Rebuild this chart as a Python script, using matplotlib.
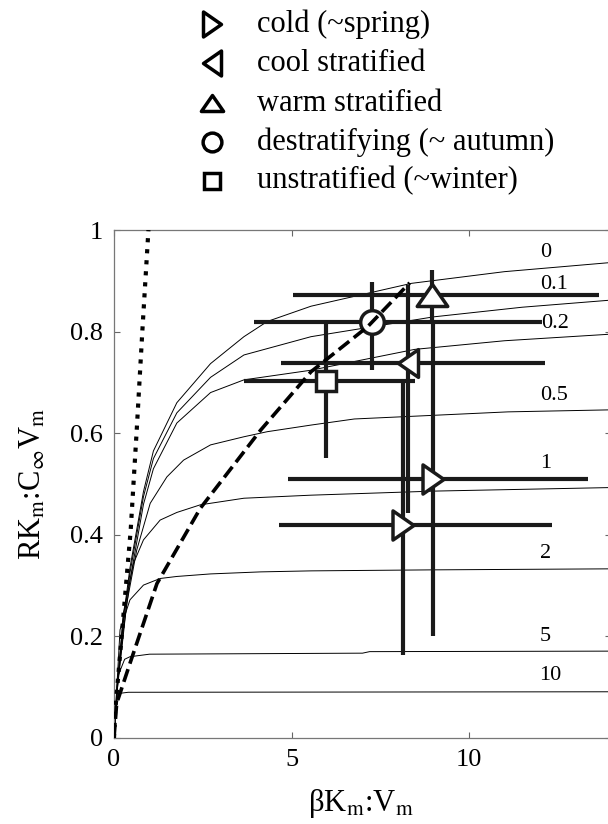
import matplotlib
matplotlib.use("Agg")
import matplotlib.pyplot as plt
from matplotlib.path import Path
import numpy as np

plt.rcParams['font.family'] = ['Liberation Serif', 'DejaVu Serif']
plt.rcParams['mathtext.fontset'] = 'stix'

# thin model curves, one per parameter value
x_c0 = [0, 0.1, 0.26, 0.45, 0.83, 1.11, 1.77, 2.72, 3.66, 4.32, 5.55, 8.38, 11.0, 14.0]
y_c0 = [0, 0.11, 0.235, 0.335, 0.485, 0.565, 0.66, 0.737, 0.79, 0.82, 0.85, 0.895, 0.918, 0.936]
x_c01 = [0, 0.1, 0.26, 0.45, 0.83, 1.11, 1.77, 2.72, 3.66, 5.55, 9.0, 11.5, 14.0]
y_c01 = [0, 0.11, 0.225, 0.325, 0.475, 0.55, 0.64, 0.71, 0.754, 0.79, 0.829, 0.848, 0.862]
x_c02 = [0, 0.1, 0.26, 0.45, 0.83, 1.11, 1.77, 2.72, 3.66, 5.55, 8.47, 11.0, 14.0]
y_c02 = [0, 0.105, 0.21, 0.31, 0.46, 0.53, 0.62, 0.68, 0.705, 0.724, 0.765, 0.782, 0.795]
x_c05 = [0, 0.1, 0.36, 0.64, 1.02, 1.49, 1.96, 2.72, 3.66, 4.32, 5.55, 6.77, 11.1, 14.0]
y_c05 = [0, 0.1, 0.265, 0.37, 0.462, 0.514, 0.547, 0.577, 0.593, 0.603, 0.616, 0.628, 0.642, 0.646]
x_c1 = [0, 0.1, 0.26, 0.55, 0.83, 1.30, 1.77, 2.43, 3.66, 5.55, 9.0, 14.0]
y_c1 = [0, 0.1, 0.245, 0.344, 0.39, 0.429, 0.444, 0.459, 0.472, 0.478, 0.486, 0.493]
x_c2 = [0, 0.08, 0.17, 0.45, 0.83, 1.30, 1.77, 2.72, 4.13, 5.55, 9.0, 14.0]
y_c2 = [0, 0.1, 0.213, 0.272, 0.301, 0.314, 0.318, 0.323, 0.327, 0.329, 0.331, 0.333]
x_c5 = [0, 0.1, 0.3, 0.45, 1.0, 7.0, 7.2, 14.0]
y_c5 = [0, 0.12, 0.155, 0.16, 0.165, 0.167, 0.170, 0.171]
x_c10 = [0, 0.05, 0.17, 0.4, 14.0]
y_c10 = [0, 0.06, 0.088, 0.09, 0.091]
curve_x = [x_c0, x_c01, x_c02, x_c05, x_c1, x_c2, x_c5, x_c10]
curve_y = [y_c0, y_c01, y_c02, y_c05, y_c1, y_c2, y_c5, y_c10]
curve_names = ['0', '0.1', '0.2', '0.5', '1', '2', '5', '10']
label_x = [12.15, 12.4, 12.43, 12.4, 12.15, 12.15, 12.15, 12.3]
label_y = [0.955, 0.892, 0.815, 0.675, 0.541, 0.364, 0.199, 0.124]

# dotted and dashed reference lines
dot_x = [0, 0.03, 0.15, 0.31, 0.47, 0.64, 0.80, 0.97]
dot_y = [0, 0.05, 0.147, 0.278, 0.409, 0.606, 0.803, 1.0]
dash_x = [0, 0.075, 0.45, 1.21, 2.43, 4.13, 5.55, 7.15, 8.33]
dash_y = [0.0, 0.068, 0.147, 0.304, 0.452, 0.606, 0.721, 0.81, 0.896]

# observations: centre, x range, y range
cold_x = [8.99, 8.14]; cold_y = [0.509, 0.419]
cold_xlo = [4.89, 4.64]; cold_xhi = [13.35, 12.34]
cold_ylo = [0.20, 0.163]; cold_yhi = [0.82, 0.705]
cool_x = [8.27]; cool_y = [0.738]
cool_xlo = [4.7]; cool_xhi = [12.15]; cool_ylo = [0.443]; cool_yhi = [0.892]
warm_x = [8.97]; warm_y = [0.872]
warm_xlo = [5.03]; warm_xhi = [13.66]; warm_ylo = [0.82]; warm_yhi = [0.921]
destrat_x = [7.27]; destrat_y = [0.819]
destrat_xlo = [3.94]; destrat_xhi = [12.06]; destrat_ylo = [0.724]; destrat_yhi = [0.898]
unstrat_x = [5.97]; unstrat_y = [0.703]
unstrat_xlo = [3.66]; unstrat_xhi = [8.47]; unstrat_ylo = [0.551]; unstrat_yhi = [0.823]

legend_labels = ['cold (~spring)', 'cool stratified', 'warm stratified',
                 'destratifying (~ autumn)', 'unstratified (~winter)']

tri_right = Path([(-0.72, -1), (0.72, 0), (-0.72, 1), (-0.72, -1)], closed=True)
tri_left = Path([(0.72, -1), (-0.72, 0), (0.72, 1), (0.72, -1)], closed=True)
tri_up = Path([(-1, -0.72), (1, -0.72), (0, 0.72), (-1, -0.72)], closed=True)

fig = plt.figure(figsize=(6.08, 8.24), dpi=100)
ax = fig.add_axes([114/608, 86/824, 497/608, 508/824])

for xs, ys in zip(curve_x, curve_y):
    ax.plot(xs, ys, color='black', lw=0.7, zorder=1)
for name, tx, ty in zip(curve_names, label_x, label_y):
    ax.text(tx, ty, name, fontsize=16, ha='center', va='center')

ax.plot(dot_x, dot_y, ':', color='black', lw=3, zorder=5)
ax.plot(dash_x, dash_y, '--', color='black', lw=2.6, zorder=5)

groups = [
    (cold_x, cold_y, cold_xlo, cold_xhi, cold_ylo, cold_yhi, tri_right, 21),
    (cool_x, cool_y, cool_xlo, cool_xhi, cool_ylo, cool_yhi, tri_left, 20),
    (warm_x, warm_y, warm_xlo, warm_xhi, warm_ylo, warm_yhi, tri_up, 22),
    (destrat_x, destrat_y, destrat_xlo, destrat_xhi, destrat_ylo, destrat_yhi, 'o', 17),
    (unstrat_x, unstrat_y, unstrat_xlo, unstrat_xhi, unstrat_ylo, unstrat_yhi, 's', 14),
]
for gx, gy, xlo, xhi, ylo, yhi, mk, ms in groups:
    gx = np.array(gx); gy = np.array(gy)
    xerr = [gx - np.array(xlo), np.array(xhi) - gx]
    yerr = [gy - np.array(ylo), np.array(yhi) - gy]
    ax.errorbar(gx, gy, xerr=xerr, yerr=yerr, fmt='none', ecolor='#1a1a1a',
                elinewidth=3, capsize=0, zorder=2)
    ax.plot(gx, gy, ls='none', marker=mk, ms=ms, mfc='white', mec='#1a1a1a',
            mew=2.5, zorder=3)

ax.set_xlim(0, 14)
ax.set_ylim(0, 1)
ax.set_xticks([0, 5, 10])
ax.set_xticklabels(['0', '5', '10'])
ax.set_yticks([0, 0.2, 0.4, 0.6, 0.8, 1.0])
ax.set_yticklabels(['0', '0.2', '0.4', '0.6', '0.8', '1'])
ax.tick_params(direction='in', top=True, right=True, length=4, width=0.8,
               color='#666666', labelsize=19, pad=8)
for sp in ax.spines.values():
    sp.set_color('#777777')
    sp.set_linewidth(0.9)

fig.text(33/608, 1 - 484/824, r'RK$_{\rm m}$:C$_\infty$V$_{\rm m}$', rotation=90,
         fontsize=22, ha='center', va='center')
fig.text(361/608, 1 - 803/824, r'βK$_{\rm m}$:V$_{\rm m}$',
         fontsize=22, ha='center', va='center')

# legend drawn by hand above the axes
lax = fig.add_axes([0, 0, 1, 1])
lax.set_xlim(0, 608)
lax.set_ylim(824, 0)
lax.axis('off')
row_y = [24, 63, 103, 142, 181]
leg_markers = [tri_right, tri_left, tri_up, 'o', 's']
leg_ms = [18, 18, 16, 13.5, 12]
for yy, mk, ms, lab in zip(row_y, leg_markers, leg_ms, legend_labels):
    lax.plot([212], [yy], ls='none', marker=mk, ms=ms, mfc='white', mec='black', mew=2.5)
    lax.text(257, yy, lab, fontsize=22, ha='left', va='center')

fig.savefig('out.png', dpi=100)
